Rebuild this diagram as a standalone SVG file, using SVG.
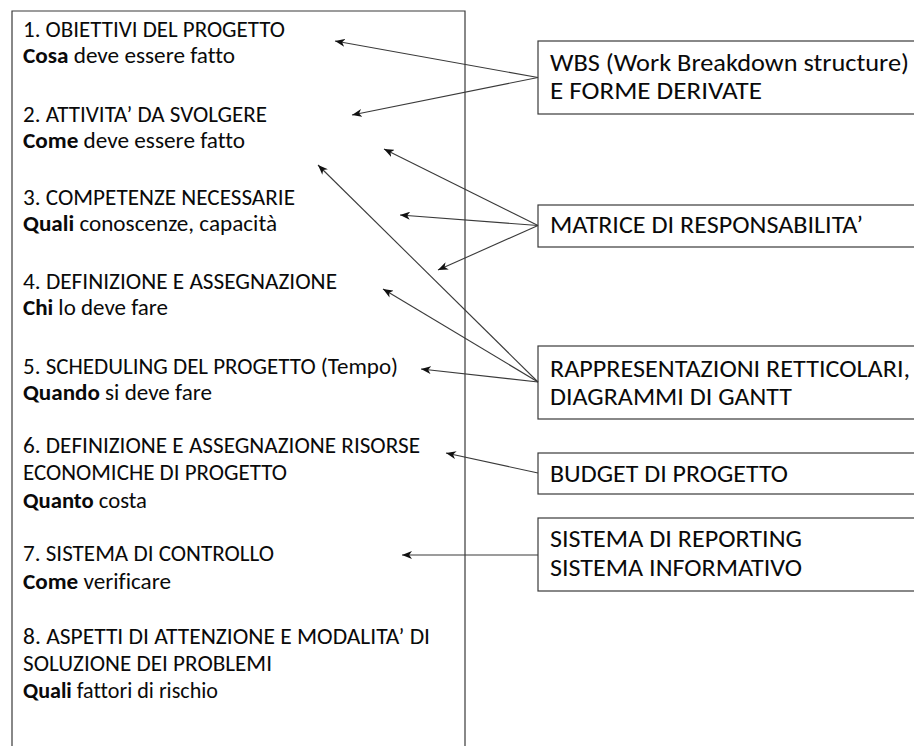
<svg xmlns="http://www.w3.org/2000/svg" width="914" height="746" viewBox="0 0 914 746">
  <defs>
    <marker id="arrow" viewBox="0 0 10 8" markerWidth="10" markerHeight="8" refX="10" refY="4" orient="auto" markerUnits="userSpaceOnUse">
      <path d="M0,0 L10,4 L0,8 L2.8,4 Z" fill="#111"/>
    </marker>
  </defs>
  <style>
    .frame { fill: none; stroke: #3a3a3a; stroke-width: 1.2; }
    .box { fill: #fff; stroke: #3a3a3a; stroke-width: 1.2; }
    text { font-family: Carlito, Lato, "Liberation Sans", sans-serif; fill: #0a0a0a; font-variant-ligatures: none; }
    .lt { font-size: 22px; }
    .rt { font-size: 24px; }
    .b { font-weight: bold; }
    .conn line { stroke: #3a3a3a; stroke-width: 1.1; marker-end: url(#arrow); }
  </style>
  <rect width="914" height="746" fill="#fff"/>

  <!-- project plan column -->
  <g id="plan">
    <path class="frame" d="M12,750 L12,11 L465,11 L465,750"/>
    <text class="lt" x="23" y="37" textLength="262" lengthAdjust="spacingAndGlyphs">1. OBIETTIVI DEL PROGETTO</text>
    <text class="lt" x="23" y="63" textLength="212" lengthAdjust="spacingAndGlyphs"><tspan class="b">Cosa</tspan> deve essere fatto</text>
    <text class="lt" x="23" y="122" textLength="244" lengthAdjust="spacingAndGlyphs">2. ATTIVITA’ DA SVOLGERE</text>
    <text class="lt" x="23" y="148" textLength="222" lengthAdjust="spacingAndGlyphs"><tspan class="b">Come</tspan> deve essere fatto</text>
    <text class="lt" x="23" y="205" textLength="272" lengthAdjust="spacingAndGlyphs">3. COMPETENZE NECESSARIE</text>
    <text class="lt" x="23" y="231" textLength="254" lengthAdjust="spacingAndGlyphs"><tspan class="b">Quali</tspan> conoscenze, capacità</text>
    <text class="lt" x="23" y="289" textLength="314" lengthAdjust="spacingAndGlyphs">4. DEFINIZIONE E ASSEGNAZIONE</text>
    <text class="lt" x="23" y="315" textLength="145" lengthAdjust="spacingAndGlyphs"><tspan class="b">Chi</tspan> lo deve fare</text>
    <text class="lt" x="23" y="374" textLength="375" lengthAdjust="spacingAndGlyphs">5. SCHEDULING DEL PROGETTO (Tempo)</text>
    <text class="lt" x="23" y="400" textLength="189" lengthAdjust="spacingAndGlyphs"><tspan class="b">Quando</tspan> si deve fare</text>
    <text class="lt" x="23" y="453" textLength="397" lengthAdjust="spacingAndGlyphs">6. DEFINIZIONE E ASSEGNAZIONE RISORSE</text>
    <text class="lt" x="23" y="480" textLength="264" lengthAdjust="spacingAndGlyphs">ECONOMICHE DI PROGETTO</text>
    <text class="lt" x="23" y="508" textLength="124" lengthAdjust="spacingAndGlyphs"><tspan class="b">Quanto</tspan> costa</text>
    <text class="lt" x="23" y="561" textLength="251" lengthAdjust="spacingAndGlyphs">7. SISTEMA DI CONTROLLO</text>
    <text class="lt" x="23" y="589" textLength="148" lengthAdjust="spacingAndGlyphs"><tspan class="b">Come</tspan> verificare</text>
    <text class="lt" x="23" y="644" textLength="407" lengthAdjust="spacingAndGlyphs">8. ASPETTI DI ATTENZIONE E MODALITA’ DI</text>
    <text class="lt" x="23" y="671" textLength="249" lengthAdjust="spacingAndGlyphs">SOLUZIONE DEI PROBLEMI</text>
    <text class="lt" x="23" y="698" textLength="195" lengthAdjust="spacingAndGlyphs"><tspan class="b">Quali</tspan> fattori di rischio</text>
  </g>

  <!-- tools -->
  <g id="wbs">
    <rect class="box" x="538" y="41" width="390" height="73"/>
    <text class="rt" x="550" y="71" textLength="359" lengthAdjust="spacingAndGlyphs">WBS (Work Breakdown structure)</text>
    <text class="rt" x="550" y="99" textLength="212" lengthAdjust="spacingAndGlyphs">E FORME DERIVATE</text>
  </g>
  <g id="matrice">
    <rect class="box" x="538" y="205" width="390" height="42"/>
    <text class="rt" x="550" y="233" textLength="313" lengthAdjust="spacingAndGlyphs">MATRICE DI RESPONSABILITA’</text>
  </g>
  <g id="reticolari">
    <rect class="box" x="538" y="346" width="390" height="73"/>
    <text class="rt" x="550" y="377" textLength="360" lengthAdjust="spacingAndGlyphs">RAPPRESENTAZIONI RETTICOLARI,</text>
    <text class="rt" x="550" y="405" textLength="242" lengthAdjust="spacingAndGlyphs">DIAGRAMMI DI GANTT</text>
  </g>
  <g id="budget">
    <rect class="box" x="538" y="453" width="390" height="41"/>
    <text class="rt" x="550" y="482" textLength="238" lengthAdjust="spacingAndGlyphs">BUDGET DI PROGETTO</text>
  </g>
  <g id="reporting">
    <rect class="box" x="538" y="518" width="390" height="73"/>
    <text class="rt" x="550" y="547" textLength="252" lengthAdjust="spacingAndGlyphs">SISTEMA DI REPORTING</text>
    <text class="rt" x="550" y="576" textLength="252" lengthAdjust="spacingAndGlyphs">SISTEMA INFORMATIVO</text>
  </g>

  <!-- connectors -->
  <g id="connectors" class="conn">
    <line x1="538" y1="77.5" x2="335" y2="41"/>
    <line x1="538" y1="77.5" x2="352" y2="115"/>
    <line x1="538" y1="225.5" x2="384" y2="149"/>
    <line x1="538" y1="225.5" x2="400" y2="215"/>
    <line x1="538" y1="225.5" x2="438" y2="270"/>
    <line x1="538" y1="382" x2="318" y2="165"/>
    <line x1="538" y1="382" x2="383" y2="289"/>
    <line x1="538" y1="382" x2="421" y2="369"/>
    <line x1="538" y1="473" x2="446" y2="453"/>
    <line x1="538" y1="555" x2="402" y2="555"/>
  </g>
</svg>
